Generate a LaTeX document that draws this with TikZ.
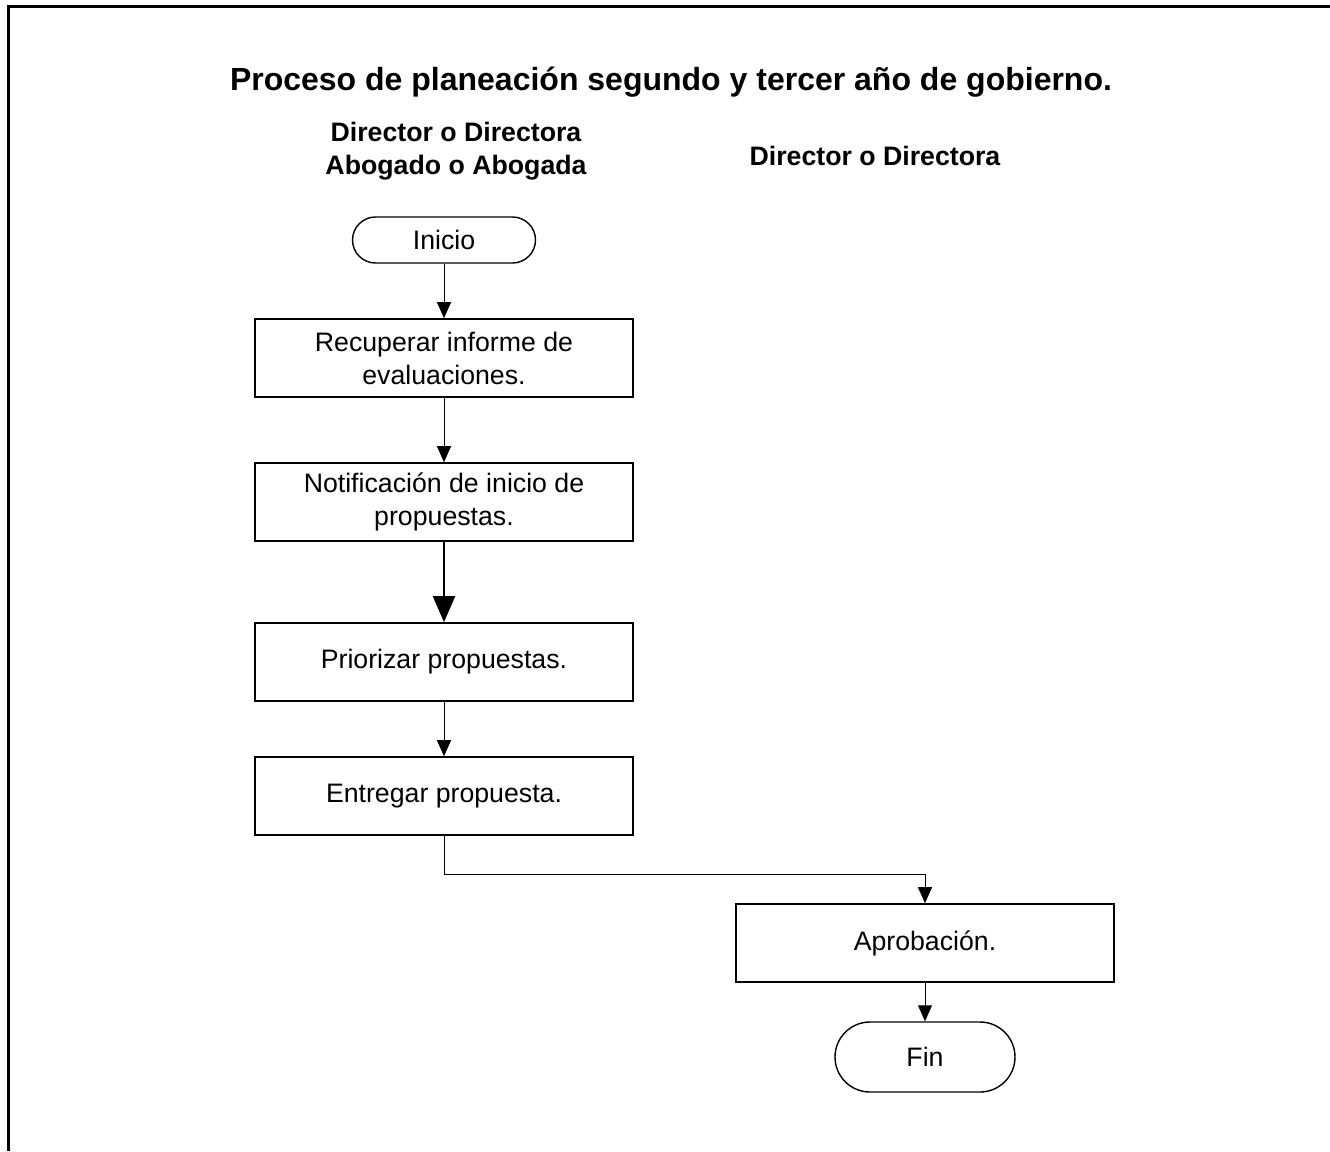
\documentclass[tikz,border=0pt]{standalone}
\usepackage{fontspec}
\setmainfont{Liberation Sans}
\usetikzlibrary{arrows.meta}
\begin{document}
\begin{tikzpicture}[x=1pt,y=-1pt,
  every node/.style={font=\fontsize{26.7}{33}\selectfont},
  proc/.style={draw,line width=1.6pt,minimum width=378pt,minimum height=78pt,align=center,inner sep=0pt},
  term/.style={draw,line width=1.4pt,align=center,inner sep=0pt},
  hdr/.style={font=\bfseries\fontsize{26.7}{33}\selectfont,align=center},
  conn/.style={line width=0.9pt,-{Triangle[length=16pt,width=14pt]}},
  bigconn/.style={line width=2pt,-{Triangle[length=26pt,width=22pt]}}]
\useasboundingbox (0,0) rectangle (1330,1151);
\draw[line width=3pt] (8,1151) -- (8,6) -- (1330,6);
\node[font=\bfseries\fontsize{32}{38}\selectfont] (title) at (671,82) {Proceso de planeación segundo y tercer año de gobierno.};
\node[hdr] (h1) at (456,151) {Director o Directora\\Abogado o Abogada};
\node[hdr] (h2) at (875,156) {Director o Directora};
\node[term,minimum width=183pt,minimum height=46pt,rounded corners=23pt] (ini) at (444,240) {Inicio};
\node[proc] (b1) at (444,358) {Recuperar informe de\\evaluaciones.};
\node[proc] (b2) at (444,502) {Notificación de inicio de\\propuestas.};
\node[proc] (b3) at (444,662) {Priorizar propuestas.};
\node[proc] (b4) at (444,796) {Entregar propuesta.};
\node[proc] (apr) at (925,943) {Aprobación.};
\node[term,minimum width=180pt,minimum height=70pt,rounded corners=35pt] (fin) at (925,1057) {Fin};
\coordinate (k1) at (444,874);
\coordinate (k2) at (925,874);
\draw[conn] (ini) -- (b1);
\draw[conn] (b1) -- (b2);
\draw[bigconn] (b2) -- (b3);
\draw[conn] (b3) -- (b4);
\draw[conn] (b4.south) -- (k1) -- (k2) -- (apr.north);
\draw[conn] (apr) -- (fin);
\end{tikzpicture}
\end{document}
